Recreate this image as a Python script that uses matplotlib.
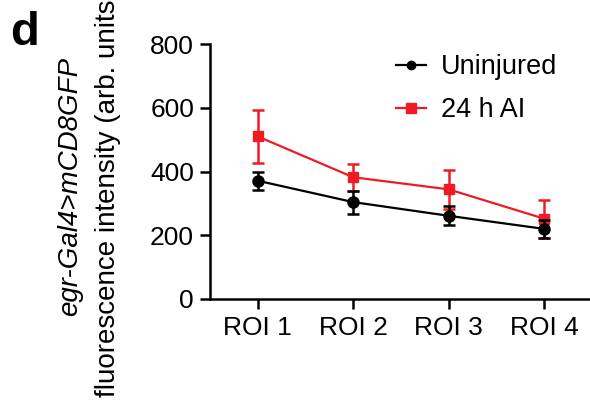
import numpy as np
import matplotlib
matplotlib.use("Agg")
import matplotlib.pyplot as plt
from matplotlib.lines import Line2D

# ── Data ─────────────────────────────────────────────────────────────────────
rois          = ["ROI 1", "ROI 2", "ROI 3", "ROI 4"]
uninjured     = [371, 304, 261, 220]
uninjured_err = [28, 36, 30, 28]
ai24          = [510, 382, 344, 252]
ai24_err      = [82, 42, 61, 60]
yticks        = [0, 200, 400, 600, 800]
RED = "#ed1c24"
# ─────────────────────────────────────────────────────────────────────────────

plt.rcParams["font.family"] = ["Liberation Sans", "DejaVu Sans"]
FS = 19

fig = plt.figure(figsize=(5.9, 4.0), dpi=100)
ax = fig.add_axes([210 / 590, 1 - 299 / 400, 380 / 590, 255 / 400])

x = np.arange(1, len(rois) + 1)

# red first so the black series sits on top where they overlap
ax.errorbar(x, ai24, yerr=ai24_err, color=RED, marker="s", ms=7.5,
            lw=1.6, elinewidth=1.8, capsize=4, capthick=1.8,
            zorder=2, clip_on=False)
ax.errorbar(x, uninjured, yerr=uninjured_err, color="black", marker="o",
            ms=8, lw=1.6, elinewidth=1.8, capsize=4, capthick=1.8,
            zorder=3, clip_on=False)

ax.set_xlim(0.5, 4.48)
ax.set_ylim(0, 800)
ax.set_xticks(x)
ax.set_xticklabels(rois)
ax.set_yticks(yticks)

for s in ["top", "right"]:
    ax.spines[s].set_visible(False)
for s in ["left", "bottom"]:
    ax.spines[s].set_linewidth(1.8)
ax.tick_params(axis="both", labelsize=FS, width=1.8, length=7.5)
ax.tick_params(axis="y", pad=4)
ax.tick_params(axis="x", pad=5)

# legend shows just line + marker, no error bars
leg_un = Line2D([], [], color="black", marker="o", ms=6, lw=1.6)
leg_ai = Line2D([], [], color=RED, marker="s", ms=6.5, lw=1.6)
ax.legend([leg_un, leg_ai], ["Uninjured", "24 h AI"], frameon=False, fontsize=19.5,
          loc="upper left", bbox_to_anchor=(0.454, 1.012), borderpad=0,
          handlelength=1.1, handletextpad=0.55, labelspacing=0.62)

fig.text(70 / 590, 1 - 186 / 400, "egr-Gal4>mCD8GFP", rotation=90,
         style="italic", fontsize=20, ha="center", va="center")
# the reference crops this line at the top edge as well
fig.text(108 / 590, 3 / 400, "fluorescence intensity (arb. units)", rotation=90,
         fontsize=20, ha="center", va="bottom")

fig.text(10 / 590, 1 - 45 / 400, "d", fontsize=34, fontweight="bold",
         ha="left", va="baseline")

fig.savefig("out.png", dpi=100)
